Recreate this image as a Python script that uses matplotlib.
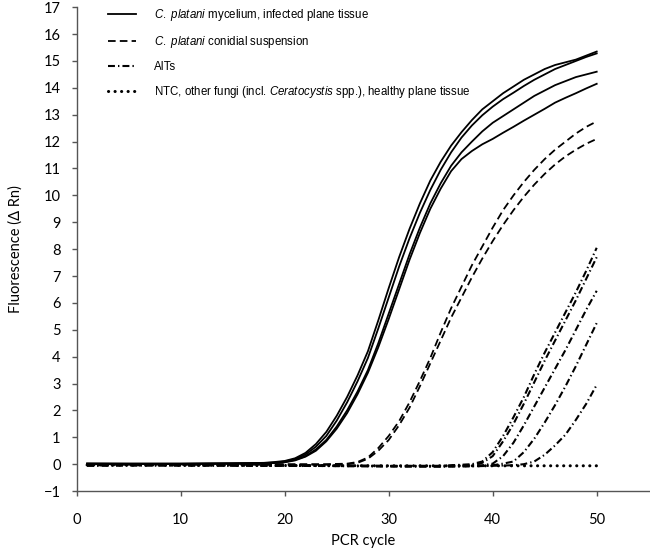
import matplotlib.pyplot as plt

plt.rcParams['font.family'] = ['Lato', 'DejaVu Sans']
plt.rcParams['mathtext.fontset'] = 'custom'
plt.rcParams['mathtext.it'] = 'Liberation Sans:italic'
plt.rcParams['mathtext.rm'] = 'Liberation Sans'
plt.rcParams['lines.scale_dashes'] = False

# C. platani mycelium / infected plane tissue (solid)
cyc_myc = [1, 5, 10, 15] + list(range(18, 51))
myc_1 = [0.03, 0.02, 0.02, 0.03,
         0.05, 0.08, 0.12, 0.22, 0.42, 0.75, 1.2, 1.8, 2.5, 3.3, 4.2, 5.35, 6.55, 7.7, 8.75, 9.7,
         10.55, 11.25, 11.85, 12.35, 12.8, 13.2, 13.5, 13.8, 14.05, 14.3, 14.5, 14.7, 14.85,
         14.95, 15.05, 15.2, 15.35]
myc_2 = [0.02, 0.02, 0.02, 0.03,
         0.04, 0.06, 0.1, 0.19, 0.36, 0.65, 1.05, 1.62, 2.3, 3.08, 3.95, 5.05, 6.2, 7.35, 8.4, 9.35,
         10.2, 10.95, 11.6, 12.15, 12.6, 12.98, 13.3, 13.58, 13.82, 14.07, 14.3, 14.5, 14.7,
         14.85, 15.0, 15.15, 15.28]
myc_3 = [0.0, 0.01, 0.01, 0.02,
         0.03, 0.05, 0.08, 0.16, 0.3, 0.55, 0.9, 1.4, 2.0, 2.7, 3.5, 4.5, 5.6, 6.7, 7.8, 8.8,
         9.7, 10.45, 11.1, 11.6, 12.0, 12.38, 12.7, 12.95, 13.2, 13.45, 13.7, 13.9, 14.1,
         14.25, 14.4, 14.5, 14.6]
myc_4 = [0.0, 0.0, 0.01, 0.02,
         0.03, 0.04, 0.07, 0.14, 0.28, 0.5, 0.85, 1.32, 1.9, 2.6, 3.4, 4.35, 5.4, 6.5, 7.6, 8.6,
         9.5, 10.25, 10.9, 11.35, 11.65, 11.9, 12.1, 12.33, 12.55, 12.78, 13.0, 13.22, 13.45,
         13.63, 13.8, 13.98, 14.15]

# conidial suspension (dashed)
cyc_con = [1, 5, 10, 15, 20, 24, 26, 27, 28, 29, 30, 31, 32, 33, 34, 35, 36, 37, 38, 39, 40,
           41, 42, 43, 44, 45, 46, 47, 48, 49, 50]
con_1 = [0.0, 0.0, 0.0, 0.0, 0.0, 0.0, 0.02, 0.08, 0.25, 0.6, 1.05, 1.6, 2.3, 3.1, 3.95, 4.9, 5.8,
         6.6, 7.4, 8.1, 8.8, 9.45, 10.0, 10.5, 10.95, 11.35, 11.7, 12.0, 12.3, 12.55, 12.75]
con_2 = [-0.02, -0.02, -0.02, -0.02, -0.02, -0.02, 0.0, 0.05, 0.2, 0.5, 0.9, 1.45, 2.1, 2.9, 3.75,
         4.6, 5.45, 6.2, 6.95, 7.65, 8.3, 8.9, 9.45, 9.95, 10.4, 10.8, 11.15, 11.45, 11.7, 11.92, 12.1]

# AITs (dash-dot)
cyc_ait = [1, 5, 10, 15, 20, 25, 30, 35, 38, 39, 40, 41, 42, 43, 44, 45, 46, 47, 48, 49, 50]
ait_1 = [-0.02, -0.02, -0.03, -0.03, -0.04, -0.05, -0.06, -0.06, 0.0, 0.1, 0.45, 1.05, 1.75, 2.5, 3.35, 4.15, 4.9, 5.65, 6.4, 7.2, 8.05]
ait_2 = [-0.03, -0.03, -0.03, -0.04, -0.05, -0.06, -0.07, -0.07, -0.03, 0.05, 0.3, 0.85, 1.5, 2.25, 3.05, 3.85, 4.6, 5.35, 6.1, 6.9, 7.7]
ait_3 = [-0.04, -0.03, -0.04, -0.04, -0.05, -0.06, -0.07, -0.08, -0.06, -0.04, 0.02, 0.3, 0.8, 1.45, 2.15, 2.85, 3.55, 4.25, 5.0, 5.75, 6.45]
ait_4 = [-0.05, -0.04, -0.04, -0.05, -0.05, -0.07, -0.08, -0.08, -0.07, -0.06, -0.04, 0.02, 0.1, 0.45, 0.95, 1.55, 2.2, 2.9, 3.65, 4.45, 5.25]
ait_5 = [-0.06, -0.05, -0.05, -0.05, -0.06, -0.07, -0.08, -0.09, -0.08, -0.07, -0.06, -0.05, -0.04, 0.0, 0.1, 0.35, 0.7, 1.1, 1.65, 2.25, 2.95]

# NTC / other fungi / healthy tissue (dotted)
cyc_ntc = [1, 10, 20, 30, 40, 50]
ntc = [-0.03, -0.04, -0.05, -0.06, -0.06, -0.06]

labels = [r'$\it{C.}$ $\it{platani}$ mycelium, infected plane tissue',
          r'$\it{C.}$ $\it{platani}$ conidial suspension',
          'AITs',
          r'NTC, other fungi (incl. $\it{Ceratocystis}$ spp.), healthy plane tissue']

fig = plt.figure(figsize=(6.5, 5.53), dpi=100)
ax = fig.add_axes([0.118, 0.112, 0.88, 0.875])

solid = dict(color='black', lw=1.3, linestyle='-')
dashed = dict(color='black', lw=1.3, linestyle=(0, (5.5, 3.0)))
dashdot = dict(color='black', lw=1.5, linestyle=(0, (5.0, 2.2, 1.0, 2.2)))
dotted = dict(color='black', lw=2.2, linestyle=(0, (0.1, 4.6)), dash_capstyle='round')

for i, ys in enumerate([myc_1, myc_2, myc_3, myc_4]):
    ln, = ax.plot(cyc_myc, ys, **solid)
    if i == 0:
        h1 = ln
for i, ys in enumerate([con_1, con_2]):
    ln, = ax.plot(cyc_con, ys, **dashed)
    if i == 0:
        h2 = ln
for i, ys in enumerate([ait_1, ait_2, ait_3, ait_4, ait_5]):
    ln, = ax.plot(cyc_ait, ys, **dashdot)
    if i == 0:
        h3 = ln
h4, = ax.plot(cyc_ntc, ntc, **dotted)

ax.set_xlim(0, 55)
ax.set_ylim(-1, 17)
ax.set_xticks(range(0, 51, 10))
ax.set_yticks(range(-1, 18))
ax.spines['top'].set_visible(False)
ax.spines['right'].set_visible(False)
for s in ['left', 'bottom']:
    ax.spines[s].set_color('#555555')
    ax.spines[s].set_linewidth(1.0)
ax.tick_params(axis='both', direction='out', length=3.6, width=1.0, color='#555555',
               labelsize=10.5)
ax.tick_params(axis='x', pad=12)
ax.tick_params(axis='y', pad=8)

ax.set_xlabel('PCR cycle', fontsize=10.5, labelpad=5)
ax.set_ylabel('Fluorescence (\u0394 Rn)', fontsize=10.5, labelpad=15)

ax.legend([h1, h2, h3, h4], labels, loc='upper left', bbox_to_anchor=(0.054, 1.0),
          frameon=False, borderpad=0, borderaxespad=0, handlelength=2.5,
          handletextpad=1.55, labelspacing=0.95,
          prop={'family': 'Liberation Sans', 'size': 8.3})

plt.savefig('out.png', dpi=100)
